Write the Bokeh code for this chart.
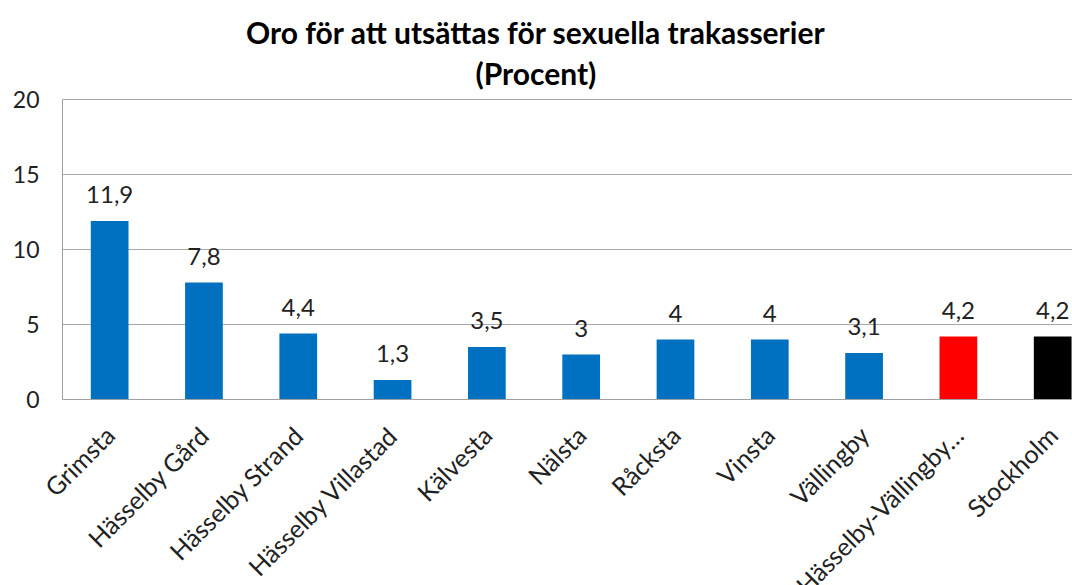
from math import pi
from bokeh.plotting import figure
from bokeh.models import ColumnDataSource, Range1d, FixedTicker, LabelSet, Label
from bokeh.core.properties import value
from bokeh.embed import file_html
from bokeh.resources import INLINE

# ---- data ----
categories = ["Grimsta", "Hässelby Gård", "Hässelby Strand", "Hässelby Villastad",
              "Kälvesta", "Nälsta", "Råcksta", "Vinsta", "Vällingby",
              "Hässelby-Vällingby…", "Stockholm"]
values = [11.9, 7.8, 4.4, 1.3, 3.5, 3.0, 4.0, 4.0, 3.1, 4.2, 4.2]
bar_colors = ["#0070C0"] * 9 + ["#FF0000", "#000000"]
y_ticks = [0, 5, 10, 15, 20]
title_lines = ["Oro för att utsättas för sexuella trakasserier", "(Procent)"]

FONT = "Lato"

xs = [i + 0.5 for i in range(len(categories))]
labels = [("%g" % v).replace(".", ",") for v in values]
src = ColumnDataSource(dict(x=xs, top=values, color=bar_colors, label=labels))

# frame spans from the top of the canvas; axis line / grid limited to 0..20
p = figure(frame_width=1010, frame_height=399, output_backend="svg", toolbar_location=None,
           x_range=Range1d(0, 10.71), y_range=Range1d(0, 26.6),
           min_border_left=62, min_border_right=0, min_border_top=0,
           min_border_bottom=0, tools="")
p.outline_line_color = None
p.background_fill_color = "white"
p.border_fill_color = "white"

p.vbar(x="x", top="top", bottom=0, width=0.4, color="color", line_color=None, source=src)

p.add_layout(LabelSet(x="x", y="top", text="label", source=src, text_align="center",
                      text_baseline="alphabetic", y_offset=18, text_font=value(FONT),
                      text_font_size="24px", text_color="#222222"))

# axes
p.yaxis.ticker = FixedTicker(ticks=y_ticks)
p.yaxis.bounds = (0, 20)
p.yaxis.major_tick_line_color = None
p.yaxis.minor_tick_line_color = None
p.yaxis.axis_line_color = "#a0a0a0"
p.yaxis.major_label_text_font = FONT
p.yaxis.major_label_text_font_size = "23px"
p.yaxis.major_label_text_color = "#222222"
p.yaxis.major_label_standoff = 17

p.xaxis.ticker = FixedTicker(ticks=xs)
p.xaxis.major_label_overrides = {x: c for x, c in zip(xs, categories)}
p.xaxis.major_label_orientation = pi / 4
p.xaxis.major_tick_line_color = None
p.xaxis.minor_tick_line_color = None
p.xaxis.axis_line_color = "#a0a0a0"
p.xaxis.major_label_text_font = FONT
p.xaxis.major_label_text_font_size = "25px"
p.xaxis.major_label_text_color = "#222222"
p.xaxis.major_label_standoff = 25

p.xgrid.grid_line_color = None
p.ygrid.grid_line_color = "#a8a8a8"
p.ygrid.grid_line_width = 1

for txt, yy in zip(title_lines, [24.47, 21.8]):
    p.add_layout(Label(x=5.02, y=yy, text=txt, text_align="center", text_baseline="middle",
                       text_font=FONT, text_font_style="bold", text_font_size="30px",
                       text_color="#000000"))

open("out.html", "w").write(file_html(p, INLINE))
